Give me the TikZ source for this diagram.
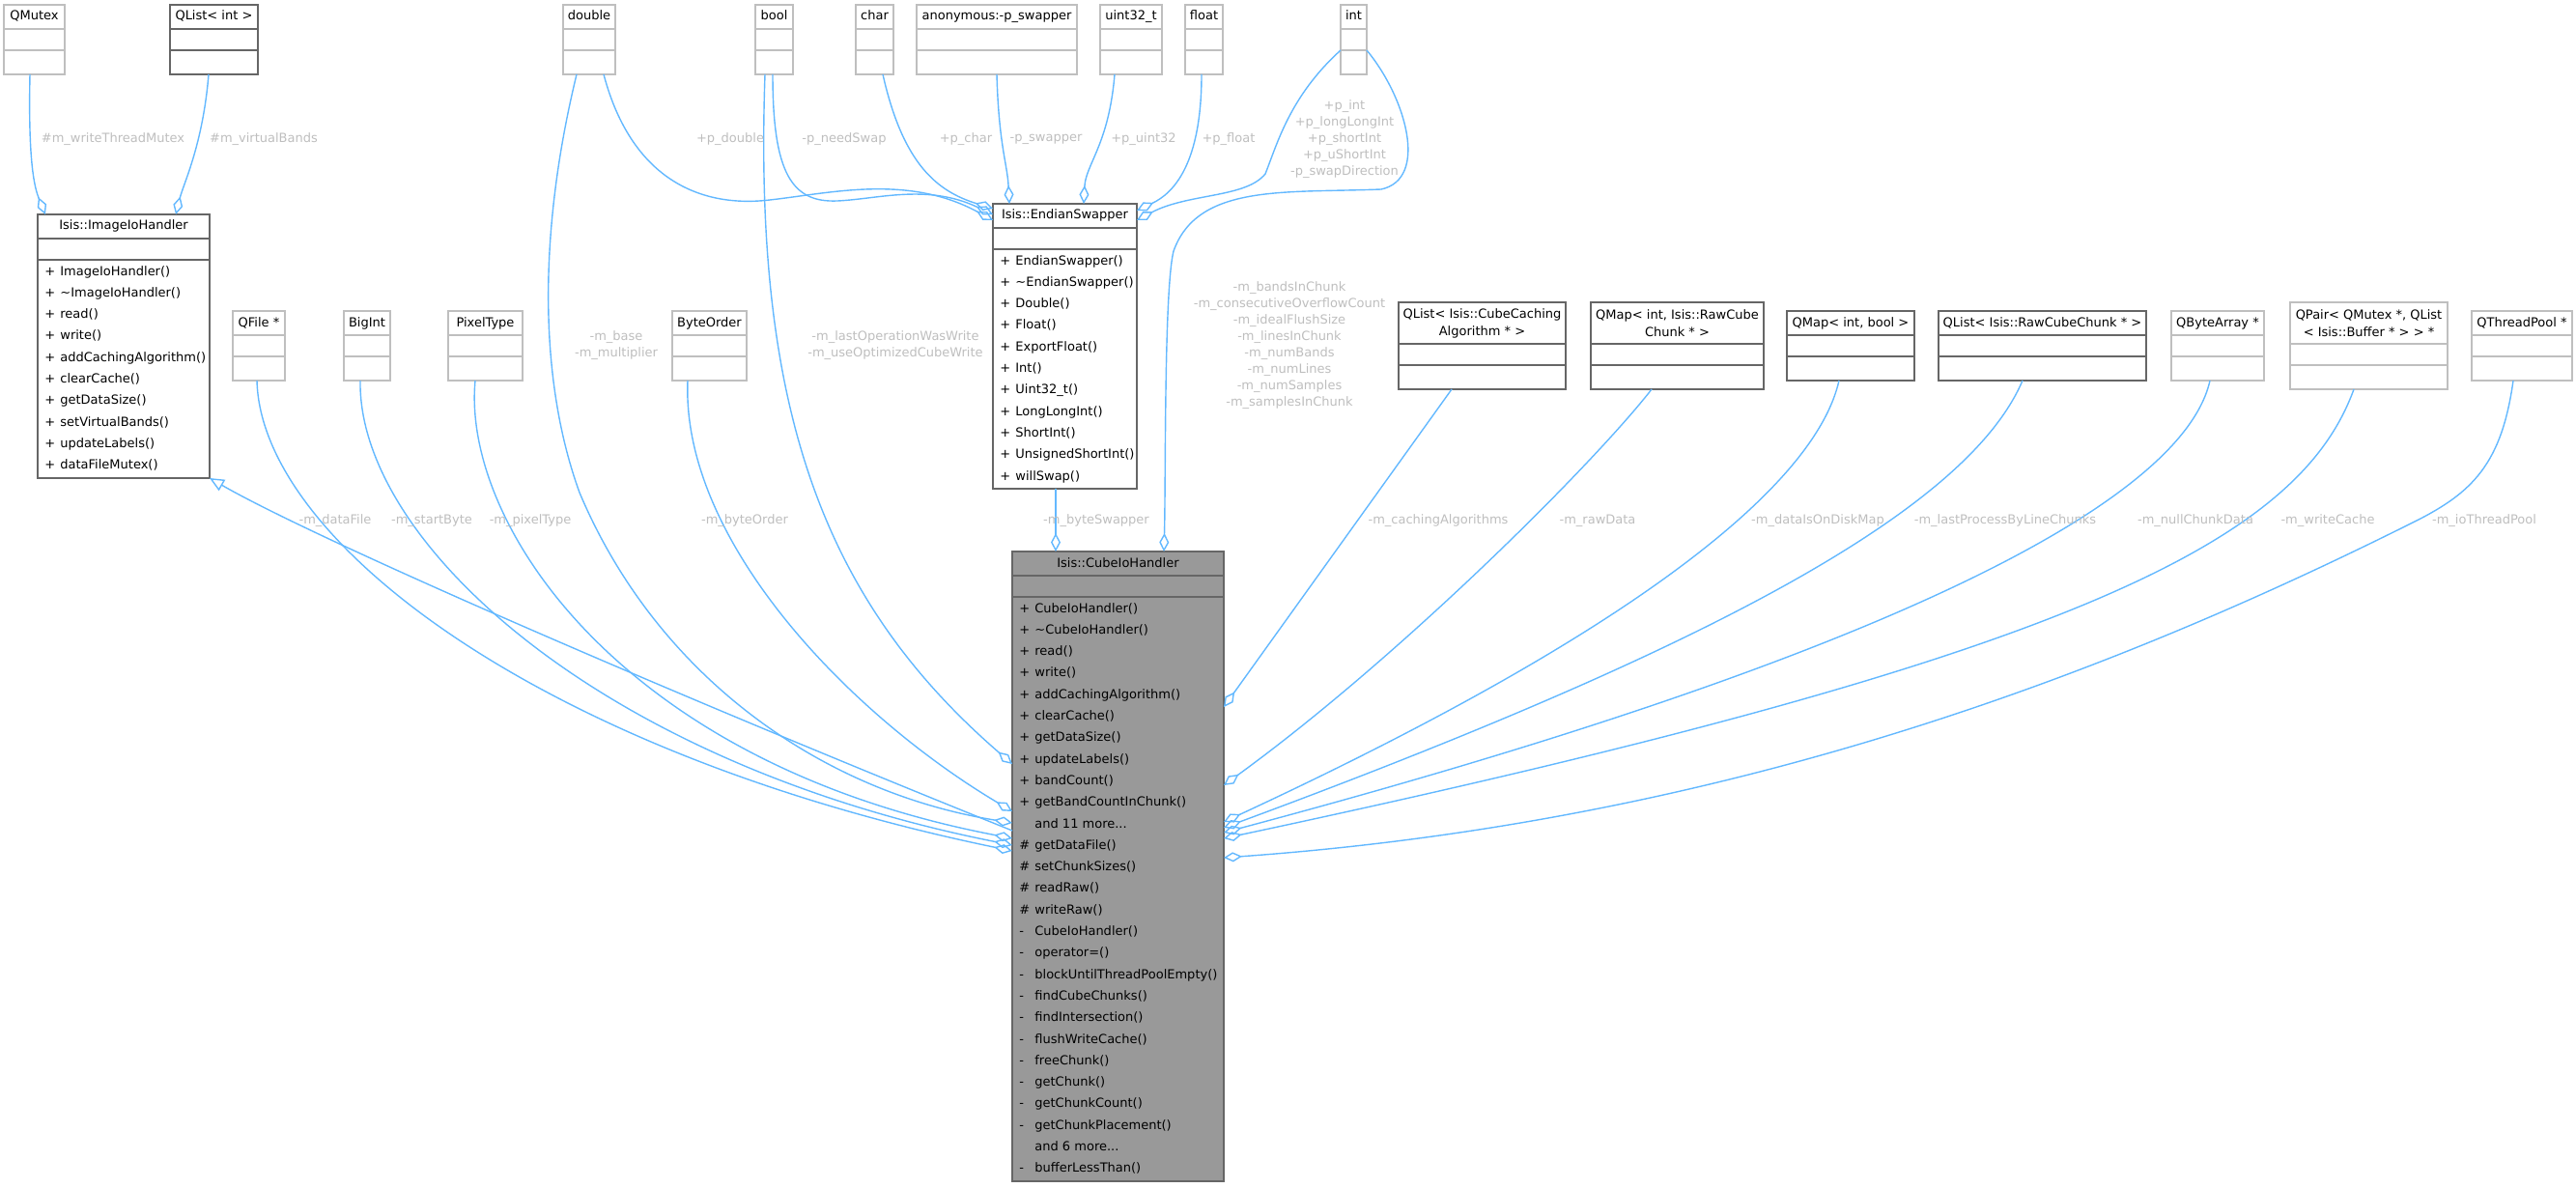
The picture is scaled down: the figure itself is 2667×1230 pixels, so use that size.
\documentclass[tikz,border=0pt]{standalone}
\usepackage{fontspec}
\setmainfont{DejaVu Sans}
\usetikzlibrary{arrows.meta,positioning}

\definecolor{edgeblue}{HTML}{63B8FF}
\definecolor{labelgrey}{HTML}{BEBEBE}
\definecolor{docgrey}{HTML}{666666}
\definecolor{undocgrey}{HTML}{BFBFBF}
\definecolor{mainfill}{HTML}{999999}

\newcommand{\mb}[2]{\strut\makebox[8pt][l]{#1}#2}

\tikzset{
  box/.style={draw=undocgrey, fill=white, line width=0.7pt, inner sep=0pt, outer sep=0pt, font=\fontsize{6.5}{9}\selectfont},
  doc/.style={draw=docgrey},
  hdr/.style={box, anchor=north west, minimum height=12.5pt, text height=4.8pt, text depth=1.3pt},
  hdrtwo/.style={box, anchor=north west, minimum height=21.5pt, align=center},
  sec/.style={box, below=0pt of #1},
  memb/.style={inner sep=0pt, anchor=north west, align=left, font=\fontsize{6.5}{11.15}\selectfont},
  rel/.style={draw=edgeblue, line width=0.7pt, -{Diamond[open, length=9.5pt, width=5pt]}},
  isa/.style={draw=edgeblue, line width=0.7pt, -{Triangle[open, length=7.5pt, width=6.5pt]}},
  lbl/.style={text=labelgrey, inner sep=0pt, align=center, font=\fontsize{6.5}{8.5}\selectfont},
}

\begin{document}
\begin{tikzpicture}[x=0.5pt, y=-0.5pt]
\useasboundingbox (0,0) rectangle (2667,1230);

% plain types, top row
\foreach \n/\x/\w/\t in {qmutex/4/63/QMutex, dbl/583/54/double, bool/782/39/bool, chr/886/39/char,
    anon/949/166/anonymous:-p\_swapper, uint/1139/64/uint32\_t, flt/1227/39/float, int/1388/27/int}{
  \node[hdr, minimum width=\w*0.5pt] (\n) at (\x,5) {\t};
  \node[sec=\n, minimum width=\w*0.5pt, minimum height=11pt] (\n-a) {};
  \node[sec=\n-a, minimum width=\w*0.5pt, minimum height=12.5pt] (\n-m) {};
}
\node[hdr, doc, minimum width=45.5pt] (qlistint) at (176,5) {QList< int >};
\node[sec=qlistint, doc, minimum width=45.5pt, minimum height=11pt] (qlistint-a) {};
\node[sec=qlistint-a, doc, minimum width=45.5pt, minimum height=12.5pt] (qlistint-m) {};

% plain types, middle row
\foreach \n/\x/\w/\t in {qfile/241/54/QFile *, bigint/356/48/BigInt, pixtype/464/77/PixelType,
    byteorder/696/77/ByteOrder, qbytearr/2248/96/QByteArray *, qthread/2559/104/QThreadPool *}{
  \node[hdr, minimum width=\w*0.5pt] (\n) at (\x,322) {\t};
  \node[sec=\n, minimum width=\w*0.5pt, minimum height=11pt] (\n-a) {};
  \node[sec=\n-a, minimum width=\w*0.5pt, minimum height=12.5pt] (\n-m) {};
}
\foreach \n/\x/\w/\t in {qmapib/1850/132/{QMap< int, bool >}, qlistrcc/2007/215/QList< Isis::RawCubeChunk * >}{
  \node[hdr, doc, minimum width=\w*0.5pt] (\n) at (\x,322) {\t};
  \node[sec=\n, doc, minimum width=\w*0.5pt, minimum height=11pt] (\n-a) {};
  \node[sec=\n-a, doc, minimum width=\w*0.5pt, minimum height=12.5pt] (\n-m) {};
}
\node[hdrtwo, doc, minimum width=86.5pt] (qlistcca) at (1448,313) {QList< Isis::CubeCaching\\Algorithm * >};
\node[sec=qlistcca, doc, minimum width=86.5pt, minimum height=11pt] (qlistcca-a) {};
\node[sec=qlistcca-a, doc, minimum width=86.5pt, minimum height=12.5pt] (qlistcca-m) {};
\node[hdrtwo, doc, minimum width=89.5pt] (qmaprcc) at (1647,313) {QMap< int, Isis::RawCube\\Chunk * >};
\node[sec=qmaprcc, doc, minimum width=89.5pt, minimum height=11pt] (qmaprcc-a) {};
\node[sec=qmaprcc-a, doc, minimum width=89.5pt, minimum height=12.5pt] (qmaprcc-m) {};
\node[hdrtwo, minimum width=81.5pt] (qpair) at (2371,313) {QPair< QMutex *, QList\\< Isis::Buffer * > > *};
\node[sec=qpair, minimum width=81.5pt, minimum height=11pt] (qpair-a) {};
\node[sec=qpair-a, minimum width=81.5pt, minimum height=12.5pt] (qpair-m) {};

% Isis::ImageIoHandler
\node[hdr, doc, minimum width=89pt] (imgio) at (39,222) {Isis::ImageIoHandler};
\node[sec=imgio, doc, minimum width=89pt, minimum height=11pt] (imgio-a) {};
\node[sec=imgio-a, doc, minimum width=89pt, minimum height=113pt] (imgio-m) {};
\node[memb] (imgio-l) at ([xshift=3.5pt]imgio-m.north west) {\mb{+}{ImageIoHandler()}\\
  \mb{+}{\textasciitilde ImageIoHandler()}\\ \mb{+}{read()}\\ \mb{+}{write()}\\
  \mb{+}{addCachingAlgorithm()}\\ \mb{+}{clearCache()}\\ \mb{+}{getDataSize()}\\
  \mb{+}{setVirtualBands()}\\ \mb{+}{updateLabels()}\\ \mb{+}{dataFileMutex()}};

% Isis::EndianSwapper
\node[hdr, doc, minimum width=74.5pt] (endian) at (1028,211) {Isis::EndianSwapper};
\node[sec=endian, doc, minimum width=74.5pt, minimum height=11pt] (endian-a) {};
\node[sec=endian-a, doc, minimum width=74.5pt, minimum height=124pt] (endian-m) {};
\node[memb] (endian-l) at ([xshift=3.5pt]endian-m.north west) {\mb{+}{EndianSwapper()}\\
  \mb{+}{\textasciitilde EndianSwapper()}\\ \mb{+}{Double()}\\ \mb{+}{Float()}\\
  \mb{+}{ExportFloat()}\\ \mb{+}{Int()}\\ \mb{+}{Uint32\_t()}\\ \mb{+}{LongLongInt()}\\
  \mb{+}{ShortInt()}\\ \mb{+}{UnsignedShortInt()}\\ \mb{+}{willSwap()}};

% Isis::CubeIoHandler
\node[hdr, doc, fill=mainfill, minimum width=109.5pt] (cube) at (1048,571) {Isis::CubeIoHandler};
\node[sec=cube, doc, fill=mainfill, minimum width=109.5pt, minimum height=11pt] (cube-a) {};
\node[sec=cube-a, doc, fill=mainfill, minimum width=109.5pt, minimum height=302.5pt] (cube-m) {};
\node[memb] (cube-l) at ([xshift=3.5pt]cube-m.north west) {\mb{+}{CubeIoHandler()}\\
  \mb{+}{\textasciitilde CubeIoHandler()}\\ \mb{+}{read()}\\ \mb{+}{write()}\\
  \mb{+}{addCachingAlgorithm()}\\ \mb{+}{clearCache()}\\ \mb{+}{getDataSize()}\\
  \mb{+}{updateLabels()}\\ \mb{+}{bandCount()}\\ \mb{+}{getBandCountInChunk()}\\
  \mb{}{and 11 more...}\\ \mb{\#}{getDataFile()}\\ \mb{\#}{setChunkSizes()}\\
  \mb{\#}{readRaw()}\\ \mb{\#}{writeRaw()}\\ \mb{-}{CubeIoHandler()}\\ \mb{-}{operator=()}\\
  \mb{-}{blockUntilThreadPoolEmpty()}\\ \mb{-}{findCubeChunks()}\\ \mb{-}{findIntersection()}\\
  \mb{-}{flushWriteCache()}\\ \mb{-}{freeChunk()}\\ \mb{-}{getChunk()}\\ \mb{-}{getChunkCount()}\\
  \mb{-}{getChunkPlacement()}\\ \mb{}{and 6 more...}\\ \mb{-}{bufferLessThan()}};

% members of ImageIoHandler
\draw[rel] (qmutex-m.south -| 31,0) .. controls (29,170) and (36,195) .. (imgio.north -| 47,0);
\draw[rel] (qlistint-m.south -| 216,0) .. controls (210,150) and (190,190) .. (imgio.north -| 182,0);

% members of EndianSwapper
\draw[rel] (dbl-m.south -| 625,0) .. controls (655,190) and (730,215) .. (797,207)
  .. controls (860,200) and (940,180) .. (endian.west |- 0,228);
\draw[rel] (bool-m.south -| 800,0) .. controls (800,180) and (820,210) .. (867,208)
  .. controls (910,206) and (960,190) .. (endian.west |- 0,222);
\draw[rel] (chr-m.south -| 914,0) .. controls (935,170) and (970,198) .. (endian.west |- 0,216);
\draw[rel] (anon-m.south -| 1032,0) .. controls (1034,150) and (1043,170) .. (endian.north -| 1045,0);
\draw[rel] (uint-m.south -| 1154,0) .. controls (1148,150) and (1124,170) .. (endian.north -| 1122,0);
\draw[rel] (flt-m.south -| 1244,0) .. controls (1244,170) and (1215,200) .. (endian.east |- 0,218);
\draw[rel] (int-m.north west) .. controls (1335,100) and (1322,150) .. (1310,180)
  .. controls (1290,205) and (1230,200) .. (endian.east |- 0,228);

% members of CubeIoHandler
\draw[rel] (int-m.north east) .. controls (1455,100) and (1480,185) .. (1430,196)
  .. controls (1330,200) and (1240,190) .. (1215,260) .. controls (1205,300) and (1207,500) .. (cube.north -| 1205,0);
\draw[rel] (endian-m.south -| 1093,0) -- (cube.north -| 1093,0);
\draw[rel] (dbl-m.south -| 597,0) .. controls (555,250) and (560,400) .. (600,510)
  .. controls (680,700) and (850,820) .. (cube-m.west |- 0,852);
\draw[rel] (bool-m.south -| 792,0) .. controls (780,420) and (850,620) .. (cube-m.west |- 0,791);
\draw[rel] (byteorder-m.south -| 712,0) .. controls (705,560) and (880,740) .. (cube-m.west |- 0,840);
\draw[rel] (pixtype-m.south -| 492,0) .. controls (478,540) and (640,790) .. (cube-m.west |- 0,868);
\draw[rel] (bigint-m.south -| 373,0) .. controls (370,560) and (620,790) .. (cube-m.west |- 0,875);
\draw[rel] (qfile-m.south -| 266,0) .. controls (270,560) and (560,780) .. (cube-m.west |- 0,881);
\draw[isa] (cube-m.west |- 0,860) .. controls (700,720) and (330,560) .. (imgio-m.south east);
\draw[rel] (qlistcca-m.south -| 1503,0) -- (cube-m.east |- 0,732);
\draw[rel] (qmaprcc-m.south -| 1710,0) .. controls (1650,480) and (1450,680) .. (cube-m.east |- 0,813);
\draw[rel] (qmapib-m.south -| 1904,0) .. controls (1880,500) and (1700,650) .. (cube-m.east |- 0,851);
\draw[rel] (qlistrcc-m.south -| 2094,0) .. controls (2040,520) and (1800,660) .. (cube-m.east |- 0,857);
\draw[rel] (qbytearr-m.south -| 2288,0) .. controls (2260,520) and (1950,680) .. (cube-m.east |- 0,862);
\draw[rel] (qpair-m.south -| 2437,0) .. controls (2380,560) and (2150,680) .. (cube-m.east |- 0,868);
\draw[rel] (qthread-m.south -| 2602,0) .. controls (2590,480) and (2560,510) .. (2500,540)
  .. controls (2200,690) and (1800,850) .. (cube-m.east |- 0,888);

% edge labels
\node[lbl] (l-mutex) at (117,144) {\#m\_writeThreadMutex};
\node[lbl] (l-vbands) at (273,144) {\#m\_virtualBands};
\node[lbl] (l-pdouble) at (756,144) {+p\_double};
\node[lbl] (l-needswap) at (874,144) {-p\_needSwap};
\node[lbl] (l-pchar) at (1000,144) {+p\_char};
\node[lbl] (l-swapper) at (1083,144) {-p\_swapper};
\node[lbl] (l-puint) at (1184,144) {+p\_uint32};
\node[lbl] (l-pfloat) at (1272,144) {+p\_float};
\node[lbl] (l-pint) at (1392,144) {+p\_int\\+p\_longLongInt\\+p\_shortInt\\+p\_uShortInt\\-p\_swapDirection};
\node[lbl] (l-base) at (638,358) {-m\_base\\-m\_multiplier};
\node[lbl] (l-lastop) at (927,358) {-m\_lastOperationWasWrite\\-m\_useOptimizedCubeWrite};
\node[lbl] (l-bands) at (1335,358) {-m\_bandsInChunk\\-m\_consecutiveOverflowCount\\-m\_idealFlushSize\\-m\_linesInChunk\\-m\_numBands\\-m\_numLines\\-m\_numSamples\\-m\_samplesInChunk};
\node[lbl] (l-datafile) at (347,539) {-m\_dataFile};
\node[lbl] (l-startbyte) at (447,539) {-m\_startByte};
\node[lbl] (l-pixtype) at (549,539) {-m\_pixelType};
\node[lbl] (l-byteorder) at (771,539) {-m\_byteOrder};
\node[lbl] (l-byteswapper) at (1135,539) {-m\_byteSwapper};
\node[lbl] (l-caching) at (1489,539) {-m\_cachingAlgorithms};
\node[lbl] (l-rawdata) at (1654,539) {-m\_rawData};
\node[lbl] (l-ondisk) at (1882,539) {-m\_dataIsOnDiskMap};
\node[lbl] (l-lastproc) at (2076,539) {-m\_lastProcessByLineChunks};
\node[lbl] (l-nullchunk) at (2273,539) {-m\_nullChunkData};
\node[lbl] (l-writecache) at (2410,539) {-m\_writeCache};
\node[lbl] (l-iopool) at (2572,539) {-m\_ioThreadPool};

\end{tikzpicture}
\end{document}
